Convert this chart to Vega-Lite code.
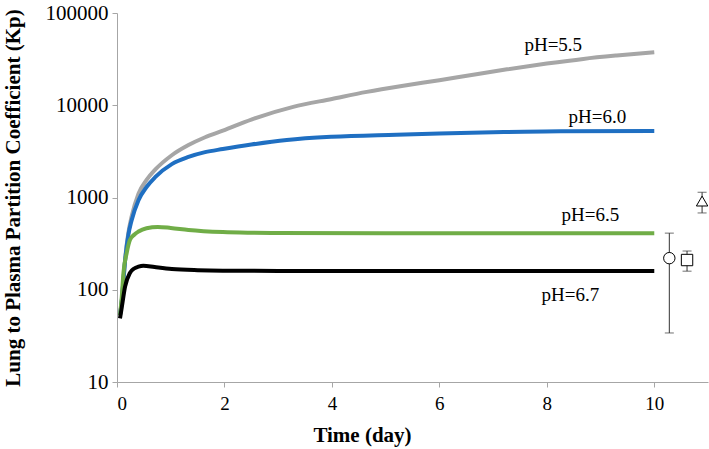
{
  "$schema": "https://vega.github.io/schema/vega-lite/v6.json",
  "autosize": "none",
  "width": 591,
  "height": 369,
  "padding": {"left": 117, "top": 13, "right": 1, "bottom": 67},
  "background": "white",
  "config": {
    "view": {"stroke": null},
    "font": "Liberation Serif",
    "axis": {
      "grid": false,
      "domainColor": "#A6A6A6",
      "tickColor": "#A6A6A6",
      "tickSize": 5,
      "labelFont": "Liberation Serif",
      "labelColor": "#000000",
      "titleFont": "Liberation Serif",
      "titleFontWeight": "bold",
      "titleColor": "#000000"
    }
  },
  "datasets": {
    "curves": [
      {"series": "pH=5.5", "t": 0.056, "kp": 53},
      {"series": "pH=5.5", "t": 0.09, "kp": 77},
      {"series": "pH=5.5", "t": 0.12, "kp": 127},
      {"series": "pH=5.5", "t": 0.15, "kp": 210},
      {"series": "pH=5.5", "t": 0.21, "kp": 410},
      {"series": "pH=5.5", "t": 0.27, "kp": 615},
      {"series": "pH=5.5", "t": 0.4, "kp": 1100},
      {"series": "pH=5.5", "t": 0.55, "kp": 1550},
      {"series": "pH=5.5", "t": 0.71, "kp": 2000},
      {"series": "pH=5.5", "t": 1.02, "kp": 2870},
      {"series": "pH=5.5", "t": 1.33, "kp": 3700},
      {"series": "pH=5.5", "t": 1.64, "kp": 4500},
      {"series": "pH=5.5", "t": 1.97, "kp": 5300},
      {"series": "pH=5.5", "t": 2.5, "kp": 7000},
      {"series": "pH=5.5", "t": 3.28, "kp": 9600},
      {"series": "pH=5.5", "t": 4, "kp": 11700},
      {"series": "pH=5.5", "t": 4.65, "kp": 13960},
      {"series": "pH=5.5", "t": 5.3, "kp": 16200},
      {"series": "pH=5.5", "t": 6, "kp": 18700},
      {"series": "pH=5.5", "t": 6.6, "kp": 21300},
      {"series": "pH=5.5", "t": 7.26, "kp": 24500},
      {"series": "pH=5.5", "t": 8, "kp": 28300},
      {"series": "pH=5.5", "t": 8.68, "kp": 31800},
      {"series": "pH=5.5", "t": 9.3, "kp": 34600},
      {"series": "pH=5.5", "t": 10, "kp": 37600},
      {"series": "pH=6.0", "t": 0.056, "kp": 53},
      {"series": "pH=6.0", "t": 0.09, "kp": 77},
      {"series": "pH=6.0", "t": 0.12, "kp": 127},
      {"series": "pH=6.0", "t": 0.15, "kp": 205},
      {"series": "pH=6.0", "t": 0.21, "kp": 390},
      {"series": "pH=6.0", "t": 0.27, "kp": 560},
      {"series": "pH=6.0", "t": 0.4, "kp": 935},
      {"series": "pH=6.0", "t": 0.55, "kp": 1300},
      {"series": "pH=6.0", "t": 0.71, "kp": 1660},
      {"series": "pH=6.0", "t": 1.02, "kp": 2300},
      {"series": "pH=6.0", "t": 1.33, "kp": 2750},
      {"series": "pH=6.0", "t": 1.64, "kp": 3100},
      {"series": "pH=6.0", "t": 1.97, "kp": 3350},
      {"series": "pH=6.0", "t": 2.5, "kp": 3750},
      {"series": "pH=6.0", "t": 3.16, "kp": 4200},
      {"series": "pH=6.0", "t": 4, "kp": 4550},
      {"series": "pH=6.0", "t": 5.2, "kp": 4800},
      {"series": "pH=6.0", "t": 6, "kp": 4950},
      {"series": "pH=6.0", "t": 7, "kp": 5100},
      {"series": "pH=6.0", "t": 8.25, "kp": 5230},
      {"series": "pH=6.0", "t": 10, "kp": 5250},
      {"series": "pH=6.5", "t": 0.056, "kp": 53},
      {"series": "pH=6.5", "t": 0.09, "kp": 85},
      {"series": "pH=6.5", "t": 0.12, "kp": 152},
      {"series": "pH=6.5", "t": 0.18, "kp": 250},
      {"series": "pH=6.5", "t": 0.24, "kp": 346},
      {"series": "pH=6.5", "t": 0.32, "kp": 395},
      {"series": "pH=6.5", "t": 0.4, "kp": 428},
      {"series": "pH=6.5", "t": 0.55, "kp": 465},
      {"series": "pH=6.5", "t": 0.76, "kp": 480},
      {"series": "pH=6.5", "t": 1.0, "kp": 468},
      {"series": "pH=6.5", "t": 1.33, "kp": 445},
      {"series": "pH=6.5", "t": 1.97, "kp": 422},
      {"series": "pH=6.5", "t": 2.5, "kp": 415},
      {"series": "pH=6.5", "t": 3, "kp": 412},
      {"series": "pH=6.5", "t": 5, "kp": 410},
      {"series": "pH=6.5", "t": 10, "kp": 410},
      {"series": "pH=6.7", "t": 0.056, "kp": 49},
      {"series": "pH=6.7", "t": 0.09, "kp": 65},
      {"series": "pH=6.7", "t": 0.15, "kp": 108},
      {"series": "pH=6.7", "t": 0.24, "kp": 152},
      {"series": "pH=6.7", "t": 0.32, "kp": 170},
      {"series": "pH=6.7", "t": 0.4, "kp": 178},
      {"series": "pH=6.7", "t": 0.49, "kp": 182},
      {"series": "pH=6.7", "t": 0.7, "kp": 176},
      {"series": "pH=6.7", "t": 1.02, "kp": 168},
      {"series": "pH=6.7", "t": 1.5, "kp": 163},
      {"series": "pH=6.7", "t": 1.97, "kp": 161},
      {"series": "pH=6.7", "t": 3, "kp": 160},
      {"series": "pH=6.7", "t": 5, "kp": 160},
      {"series": "pH=6.7", "t": 10, "kp": 160}
    ],
    "labels": [
      {"label": "pH=5.5", "t": 8.12, "kp": 44800},
      {"label": "pH=6.0", "t": 8.94, "kp": 7430},
      {"label": "pH=6.5", "t": 8.81, "kp": 650},
      {"label": "pH=6.7", "t": 8.44, "kp": 88}
    ],
    "obs": [
      {"shape": "circle", "t": 10.28, "kp": 220, "lo": 34, "hi": 411},
      {"shape": "square", "t": 10.61, "kp": 210, "lo": 159, "hi": 263},
      {"shape": "triangle", "t": 10.89, "kp": 915, "lo": 680, "hi": 1140}
    ]
  },
  "layer": [
    {
      "data": {"name": "curves"},
      "mark": {"type": "line", "strokeWidth": 4, "interpolate": "monotone"},
      "encoding": {
        "x": {"field": "t", "type": "quantitative", "scale": {"domain": [0, 11], "nice": false}, "axis": {"values": [0, 2, 4, 6, 8, 10], "title": "Time (day)", "labelFontSize": 19, "labelPadding": 7, "titleFontSize": 21, "titleX": 245, "titleAlign": "center", "titlePadding": 11}},
        "y": {"field": "kp", "type": "quantitative", "scale": {"type": "log", "domain": [10, 100000], "nice": false}, "axis": {"values": [10, 100, 1000, 10000, 100000], "format": "d", "title": "Lung to Plasma Partition Coefficient (Kp)", "labelFontSize": 21, "labelPadding": 4, "titleFontSize": 21, "titlePadding": 22}},
        "color": {"field": "series", "type": "nominal", "scale": {"domain": ["pH=5.5", "pH=6.0", "pH=6.5", "pH=6.7"], "range": ["#A6A6A6", "#1F6FC2", "#70AD47", "#000000"]}, "legend": null},
        "order": {"field": "t", "type": "quantitative"}
      }
    },
    {
      "data": {"name": "labels"},
      "mark": {"type": "text", "fontSize": 19, "font": "Liberation Serif", "color": "#000000", "baseline": "middle", "align": "center"},
      "encoding": {
        "x": {"field": "t", "type": "quantitative"},
        "y": {"field": "kp", "type": "quantitative"},
        "text": {"field": "label"}
      }
    },
    {
      "data": {"name": "obs"},
      "mark": {"type": "rule", "color": "#333333", "strokeWidth": 1},
      "encoding": {
        "x": {"field": "t", "type": "quantitative"},
        "y": {"field": "lo", "type": "quantitative"},
        "y2": {"field": "hi"}
      }
    },
    {
      "data": {"name": "obs"},
      "mark": {"type": "tick", "orient": "horizontal", "color": "#333333", "thickness": 1, "size": 9},
      "encoding": {
        "x": {"field": "t", "type": "quantitative"},
        "y": {"field": "lo", "type": "quantitative"}
      }
    },
    {
      "data": {"name": "obs"},
      "mark": {"type": "tick", "orient": "horizontal", "color": "#333333", "thickness": 1, "size": 9},
      "encoding": {
        "x": {"field": "t", "type": "quantitative"},
        "y": {"field": "hi", "type": "quantitative"}
      }
    },
    {
      "data": {"name": "obs"},
      "mark": {"type": "point", "filled": true, "fill": "white", "stroke": "#000000", "strokeWidth": 1, "opacity": 1},
      "encoding": {
        "x": {"field": "t", "type": "quantitative"},
        "y": {"field": "kp", "type": "quantitative"},
        "shape": {"field": "shape", "type": "nominal", "scale": {"domain": ["circle", "square", "triangle"], "range": ["circle", "square", "triangle-up"]}, "legend": null},
        "size": {"value": 130}
      }
    }
  ]
}
